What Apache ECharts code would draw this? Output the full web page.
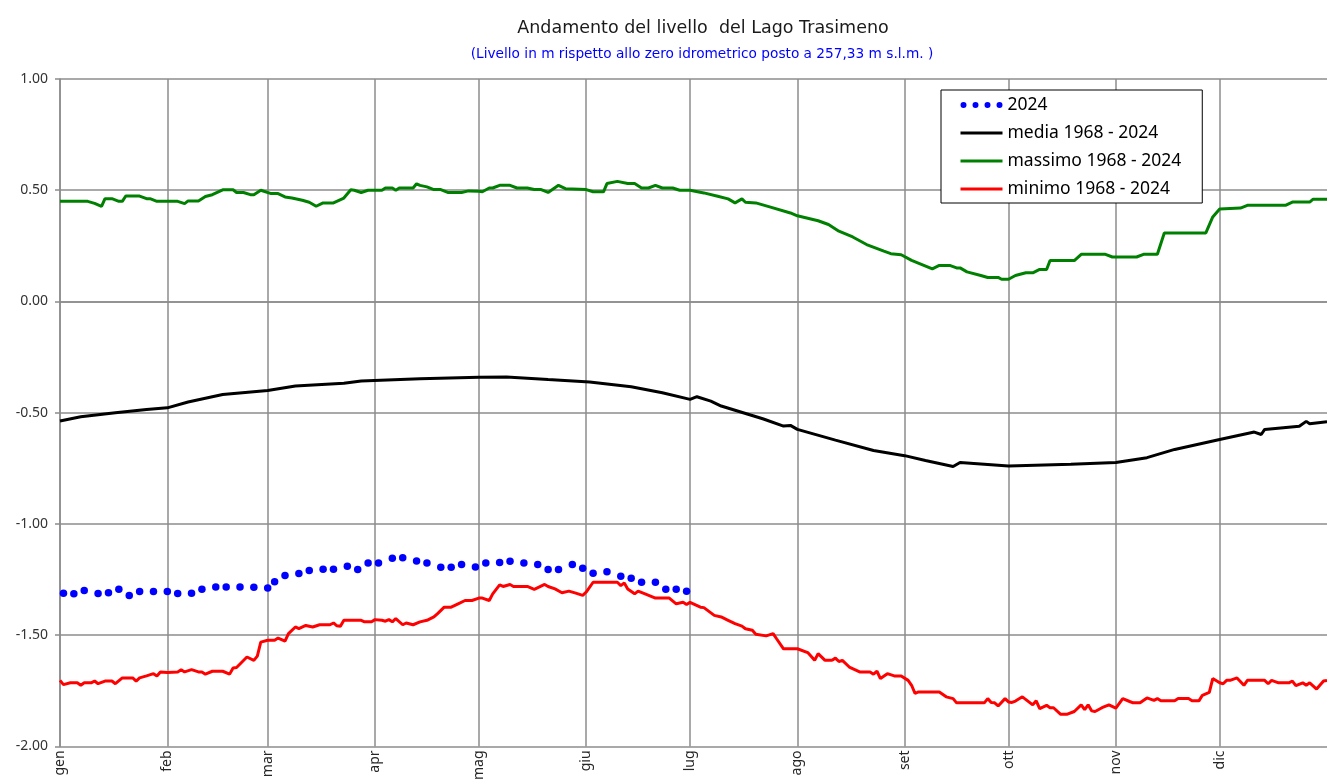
<!DOCTYPE html>
<html>
<head>
<meta charset="utf-8">
<title>Lago Trasimeno</title>
<script src="https://cdn.jsdelivr.net/npm/echarts@6/dist/echarts.min.js"></script>
<style>
  html, body { margin: 0; padding: 0; background: #fff; }
  #chart { width: 1327px; height: 783px; }
</style>
</head>
<body>
<div id="chart"></div>
<script>
// giorni dell'anno (2024, bisestile) e inizio dei mesi
const monthStarts = [0, 31, 60, 91, 121, 152, 182, 213, 244, 274, 305, 335];
const monthNames = ['gen', 'feb', 'mar', 'apr', 'mag', 'giu', 'lug', 'ago', 'set', 'ott', 'nov', 'dic'];
const days = [];
for (let i = 0; i <= 366; i++) days.push(i);

// livello 2024 (punti)
const dots2024Days = [1, 4, 7, 11, 14, 17, 20, 23, 27, 31, 34, 38, 41, 45, 48, 52, 56, 60, 62, 65,
  69, 72, 76, 79, 83, 86, 89, 92, 96, 99, 103, 106, 110, 113, 116, 120, 123, 127, 130, 134,
  138, 141, 144, 148, 151, 154, 158, 162, 165, 168, 172, 175, 178, 181];
const dots2024Values = [-1.311, -1.314, -1.299, -1.312, -1.309, -1.294, -1.321, -1.303, -1.303, -1.303,
  -1.312, -1.311, -1.294, -1.283, -1.283, -1.283, -1.285, -1.288, -1.26, -1.232,
  -1.223, -1.209, -1.203, -1.203, -1.19, -1.205, -1.176, -1.175, -1.154, -1.152,
  -1.166, -1.175, -1.194, -1.195, -1.182, -1.193, -1.175, -1.173, -1.168, -1.175,
  -1.182, -1.205, -1.205, -1.182, -1.199, -1.221, -1.215, -1.235, -1.244, -1.262,
  -1.262, -1.293, -1.293, -1.302];

// media 1968 - 2024 [giorno, livello]
const media = [[0, -0.537], [6, -0.518], [16, -0.5], [25, -0.485], [31, -0.478], [37, -0.452], [47, -0.418],
  [60, -0.4], [68, -0.38], [82, -0.368], [87, -0.357], [104, -0.347], [121, -0.34], [129, -0.339],
  [141, -0.351], [153, -0.362], [165, -0.383], [174, -0.41], [182, -0.44], [184, -0.428], [188, -0.448],
  [191, -0.47], [203, -0.527], [209, -0.56], [211, -0.557], [213, -0.575], [224, -0.623], [235, -0.67],
  [244, -0.693], [250, -0.715], [258, -0.742], [260, -0.724], [274, -0.739], [292, -0.732], [305, -0.724],
  [314, -0.702], [322, -0.665], [335, -0.62], [345, -0.587], [347, -0.598], [348, -0.575], [358, -0.561],
  [360, -0.539], [361, -0.55], [366, -0.54]];

// massimo 1968 - 2024
const massimo = [[0, 0.45], [8, 0.45], [10, 0.441], [12, 0.427], [13, 0.462], [15, 0.462], [17, 0.45], [18, 0.45],
  [19, 0.474], [23, 0.474], [25, 0.462], [26, 0.462], [28, 0.45], [34, 0.45], [36, 0.44], [37, 0.452], [40, 0.452],
  [42, 0.472], [44, 0.48], [47, 0.502], [50, 0.502], [51, 0.49], [53, 0.49], [55, 0.48], [56, 0.48], [58, 0.5],
  [61, 0.485], [63, 0.485], [65, 0.47], [67, 0.465], [70, 0.455], [72, 0.446], [74, 0.428], [76, 0.443], [79, 0.443],
  [82, 0.465], [84, 0.502], [85, 0.5], [87, 0.49], [89, 0.5], [93, 0.5], [94, 0.51], [96, 0.51], [97, 0.5],
  [98, 0.51], [102, 0.51], [103, 0.529], [104, 0.522], [106, 0.515], [108, 0.503], [110, 0.503], [112, 0.49],
  [116, 0.49], [118, 0.497], [121, 0.495], [122, 0.493], [124, 0.51], [125, 0.51], [127, 0.522], [130, 0.522],
  [132, 0.51], [135, 0.51], [137, 0.503], [139, 0.503], [141, 0.49], [144, 0.522], [146, 0.507], [152, 0.503],
  [154, 0.493], [157, 0.493], [158, 0.53], [161, 0.54], [164, 0.53], [166, 0.53], [168, 0.51], [170, 0.51],
  [172, 0.522], [174, 0.51], [177, 0.51], [179, 0.5], [182, 0.5], [186, 0.488], [190, 0.473], [193, 0.461],
  [195, 0.443], [197, 0.461], [198, 0.446], [201, 0.443], [205, 0.425], [211, 0.398], [213, 0.385], [219, 0.363],
  [222, 0.346], [225, 0.316], [229, 0.29], [233, 0.256], [238, 0.226], [240, 0.215], [243, 0.21], [246, 0.185],
  [249, 0.166], [252, 0.147], [254, 0.162], [257, 0.162], [259, 0.151], [260, 0.151], [262, 0.133], [266, 0.117],
  [268, 0.108], [271, 0.108], [272, 0.1], [274, 0.1], [276, 0.117], [279, 0.129], [281, 0.129], [283, 0.144],
  [285, 0.144], [286, 0.184], [293, 0.184], [295, 0.212], [302, 0.212], [304, 0.2], [311, 0.2], [313, 0.212],
  [317, 0.212], [319, 0.308], [331, 0.308], [333, 0.38], [335, 0.416], [341, 0.42], [343, 0.432], [354, 0.432],
  [356, 0.447], [361, 0.447], [362, 0.46], [366, 0.46]];

// minimo 1968 - 2024
const minimo = [[0, -1.703], [1, -1.722], [3, -1.714], [5, -1.714], [6, -1.725], [7, -1.714], [9, -1.714], [10, -1.706],
  [11, -1.718], [13, -1.706], [15, -1.706], [16, -1.718], [18, -1.692], [21, -1.692], [22, -1.706], [23, -1.692],
  [25, -1.683], [27, -1.673], [28, -1.683], [29, -1.665], [31, -1.668], [34, -1.665], [35, -1.655], [36, -1.665],
  [38, -1.655], [40, -1.665], [41, -1.665], [42, -1.675], [44, -1.662], [47, -1.662], [49, -1.675], [50, -1.647],
  [51, -1.645], [54, -1.598], [56, -1.613], [57, -1.594], [58, -1.531], [60, -1.523], [62, -1.523], [63, -1.513],
  [65, -1.527], [66, -1.493], [68, -1.463], [69, -1.47], [71, -1.456], [73, -1.463], [75, -1.453], [78, -1.453],
  [79, -1.445], [80, -1.458], [81, -1.46], [82, -1.433], [87, -1.433], [88, -1.44], [90, -1.44], [91, -1.43],
  [93, -1.433], [94, -1.437], [95, -1.43], [96, -1.44], [97, -1.425], [99, -1.453], [100, -1.445], [102, -1.453],
  [104, -1.44], [106, -1.433], [108, -1.418], [109, -1.404], [111, -1.374], [113, -1.374], [115, -1.359],
  [117, -1.344], [119, -1.344], [121, -1.333], [122, -1.333], [124, -1.344], [125, -1.314], [127, -1.274],
  [128, -1.281], [130, -1.272], [131, -1.281], [135, -1.281], [137, -1.294], [140, -1.272], [141, -1.281],
  [143, -1.292], [145, -1.309], [147, -1.302], [149, -1.311], [151, -1.321], [152, -1.306], [154, -1.262],
  [161, -1.262], [162, -1.277], [163, -1.265], [164, -1.292], [166, -1.314], [167, -1.302], [169, -1.314],
  [172, -1.333], [176, -1.333], [178, -1.359], [180, -1.352], [181, -1.362], [182, -1.352], [185, -1.374],
  [186, -1.376], [189, -1.411], [191, -1.418], [193, -1.433], [195, -1.448], [197, -1.459], [198, -1.471],
  [200, -1.478], [201, -1.496], [204, -1.503], [206, -1.493], [207, -1.516], [209, -1.561], [213, -1.561],
  [216, -1.578], [218, -1.613], [219, -1.583], [221, -1.613], [223, -1.613], [224, -1.603], [225, -1.618],
  [226, -1.613], [228, -1.643], [231, -1.665], [234, -1.665], [235, -1.675], [236, -1.662], [237, -1.695],
  [239, -1.673], [241, -1.683], [243, -1.683], [245, -1.703], [246, -1.725], [247, -1.762], [248, -1.755],
  [254, -1.755], [256, -1.777], [258, -1.785], [259, -1.804], [267, -1.804], [268, -1.785], [269, -1.802],
  [270, -1.804], [271, -1.818], [273, -1.785], [274, -1.8], [275, -1.802], [276, -1.796], [278, -1.777],
  [281, -1.813], [282, -1.795], [283, -1.83], [285, -1.815], [286, -1.826], [287, -1.826], [289, -1.855],
  [291, -1.855], [293, -1.843], [295, -1.813], [296, -1.835], [297, -1.813], [298, -1.84], [299, -1.843],
  [301, -1.826], [303, -1.813], [305, -1.828], [307, -1.785], [309, -1.798], [310, -1.804], [312, -1.804],
  [314, -1.782], [316, -1.793], [317, -1.785], [318, -1.795], [322, -1.795], [323, -1.785], [326, -1.785],
  [327, -1.795], [329, -1.795], [330, -1.77], [332, -1.757], [333, -1.695], [335, -1.714], [336, -1.718],
  [337, -1.703], [338, -1.703], [340, -1.692], [342, -1.725], [343, -1.703], [348, -1.703], [349, -1.718],
  [350, -1.703], [352, -1.714], [355, -1.714], [356, -1.706], [357, -1.727], [359, -1.714], [360, -1.725],
  [361, -1.714], [363, -1.742], [365, -1.706], [366, -1.703]];

const yTicks = { min: -2, max: 1, step: 0.5 };

const gridColor = '#8c8c8c';
const isMonthStart = (index) => monthStarts.indexOf(index) !== -1;
// icona legenda: quattro punti
const dotsIcon = 'path://M0,3a3,3 0 1,0 6,0a3,3 0 1,0 -6,0M12,3a3,3 0 1,0 6,0a3,3 0 1,0 -6,0'
  + 'M24,3a3,3 0 1,0 6,0a3,3 0 1,0 -6,0M36,3a3,3 0 1,0 6,0a3,3 0 1,0 -6,0';
const noSymbol = { opacity: 0 };
const legendLine = { width: 3 };

const chart = echarts.init(document.getElementById('chart'));
chart.setOption({
  animation: false,
  backgroundColor: '#fff',
  title: [
    {
      text: 'Andamento del livello  del Lago Trasimeno',
      left: 698,
      top: 14,
      textAlign: 'center',
      textStyle: { fontFamily: 'DejaVu Sans', fontSize: 17.5, fontWeight: 'normal', color: '#1a1a1a' }
    },
    {
      text: '(Livello in m rispetto allo zero idrometrico posto a 257,33 m s.l.m. )',
      left: 697,
      top: 42,
      textAlign: 'center',
      textStyle: { fontFamily: 'DejaVu Sans', fontSize: 13.7, fontWeight: 'normal', color: '#0000ff' }
    }
  ],
  legend: {
    orient: 'vertical',
    left: 941,
    top: 90,
    padding: [6, 21, 5, 18],
    itemGap: 10,
    itemWidth: 42,
    itemHeight: 7,
    backgroundColor: '#fff',
    borderColor: '#000',
    borderWidth: 1,
    textStyle: { fontFamily: 'Noto Sans', fontSize: 17.5, color: '#000' },
    data: [
      { name: '2024', icon: dotsIcon },
      { name: 'media 1968 - 2024', itemStyle: noSymbol, lineStyle: legendLine },
      { name: 'massimo 1968 - 2024', itemStyle: noSymbol, lineStyle: legendLine },
      { name: 'minimo 1968 - 2024', itemStyle: noSymbol, lineStyle: legendLine }
    ]
  },
  grid: { left: 60, right: 0, top: 79, bottom: 35 },
  xAxis: {
    type: 'category',
    data: days,
    boundaryGap: false,
    axisLine: { show: true, lineStyle: { color: gridColor, width: 1.5 } },
    axisTick: { show: false },
    axisLabel: {
      interval: (index) => isMonthStart(index),
      formatter: (value) => monthNames[monthStarts.indexOf(Number(value))],
      rotate: 90,
      margin: 4,
      fontFamily: 'Noto Sans',
      fontSize: 14,
      color: '#262626'
    },
    splitLine: {
      show: true,
      interval: (index) => isMonthStart(index),
      lineStyle: { color: gridColor, width: 1.5 }
    }
  },
  yAxis: {
    type: 'value',
    min: yTicks.min,
    max: yTicks.max,
    interval: yTicks.step,
    axisLine: { show: true, lineStyle: { color: gridColor, width: 1.5 } },
    axisTick: { show: true, length: 5, lineStyle: { color: gridColor, width: 1.5 } },
    axisLabel: {
      formatter: (v) => v.toFixed(2),
      margin: 12,
      fontFamily: 'Noto Sans',
      fontSize: 14,
      color: '#333'
    },
    splitLine: { show: true, lineStyle: { color: gridColor, width: 1.5 } }
  },
  series: [
    {
      name: '2024',
      type: 'scatter',
      data: dots2024Days.map((d, i) => [d, dots2024Values[i]]),
      symbol: 'circle',
      symbolSize: 7.5,
      itemStyle: { color: '#0000ff', opacity: 1 },
      z: 5
    },
    {
      name: 'media 1968 - 2024',
      type: 'line',
      data: media,
      showSymbol: false,
      symbol: 'none',
      color: '#000',
      lineStyle: { color: '#000', width: 3 }
    },
    {
      name: 'massimo 1968 - 2024',
      type: 'line',
      data: massimo,
      showSymbol: false,
      symbol: 'none',
      color: '#008000',
      lineStyle: { color: '#008000', width: 3 }
    },
    {
      name: 'minimo 1968 - 2024',
      type: 'line',
      data: minimo,
      showSymbol: false,
      symbol: 'none',
      color: '#ff0000',
      lineStyle: { color: '#ff0000', width: 3 }
    }
  ]
});
</script>
</body>
</html>
